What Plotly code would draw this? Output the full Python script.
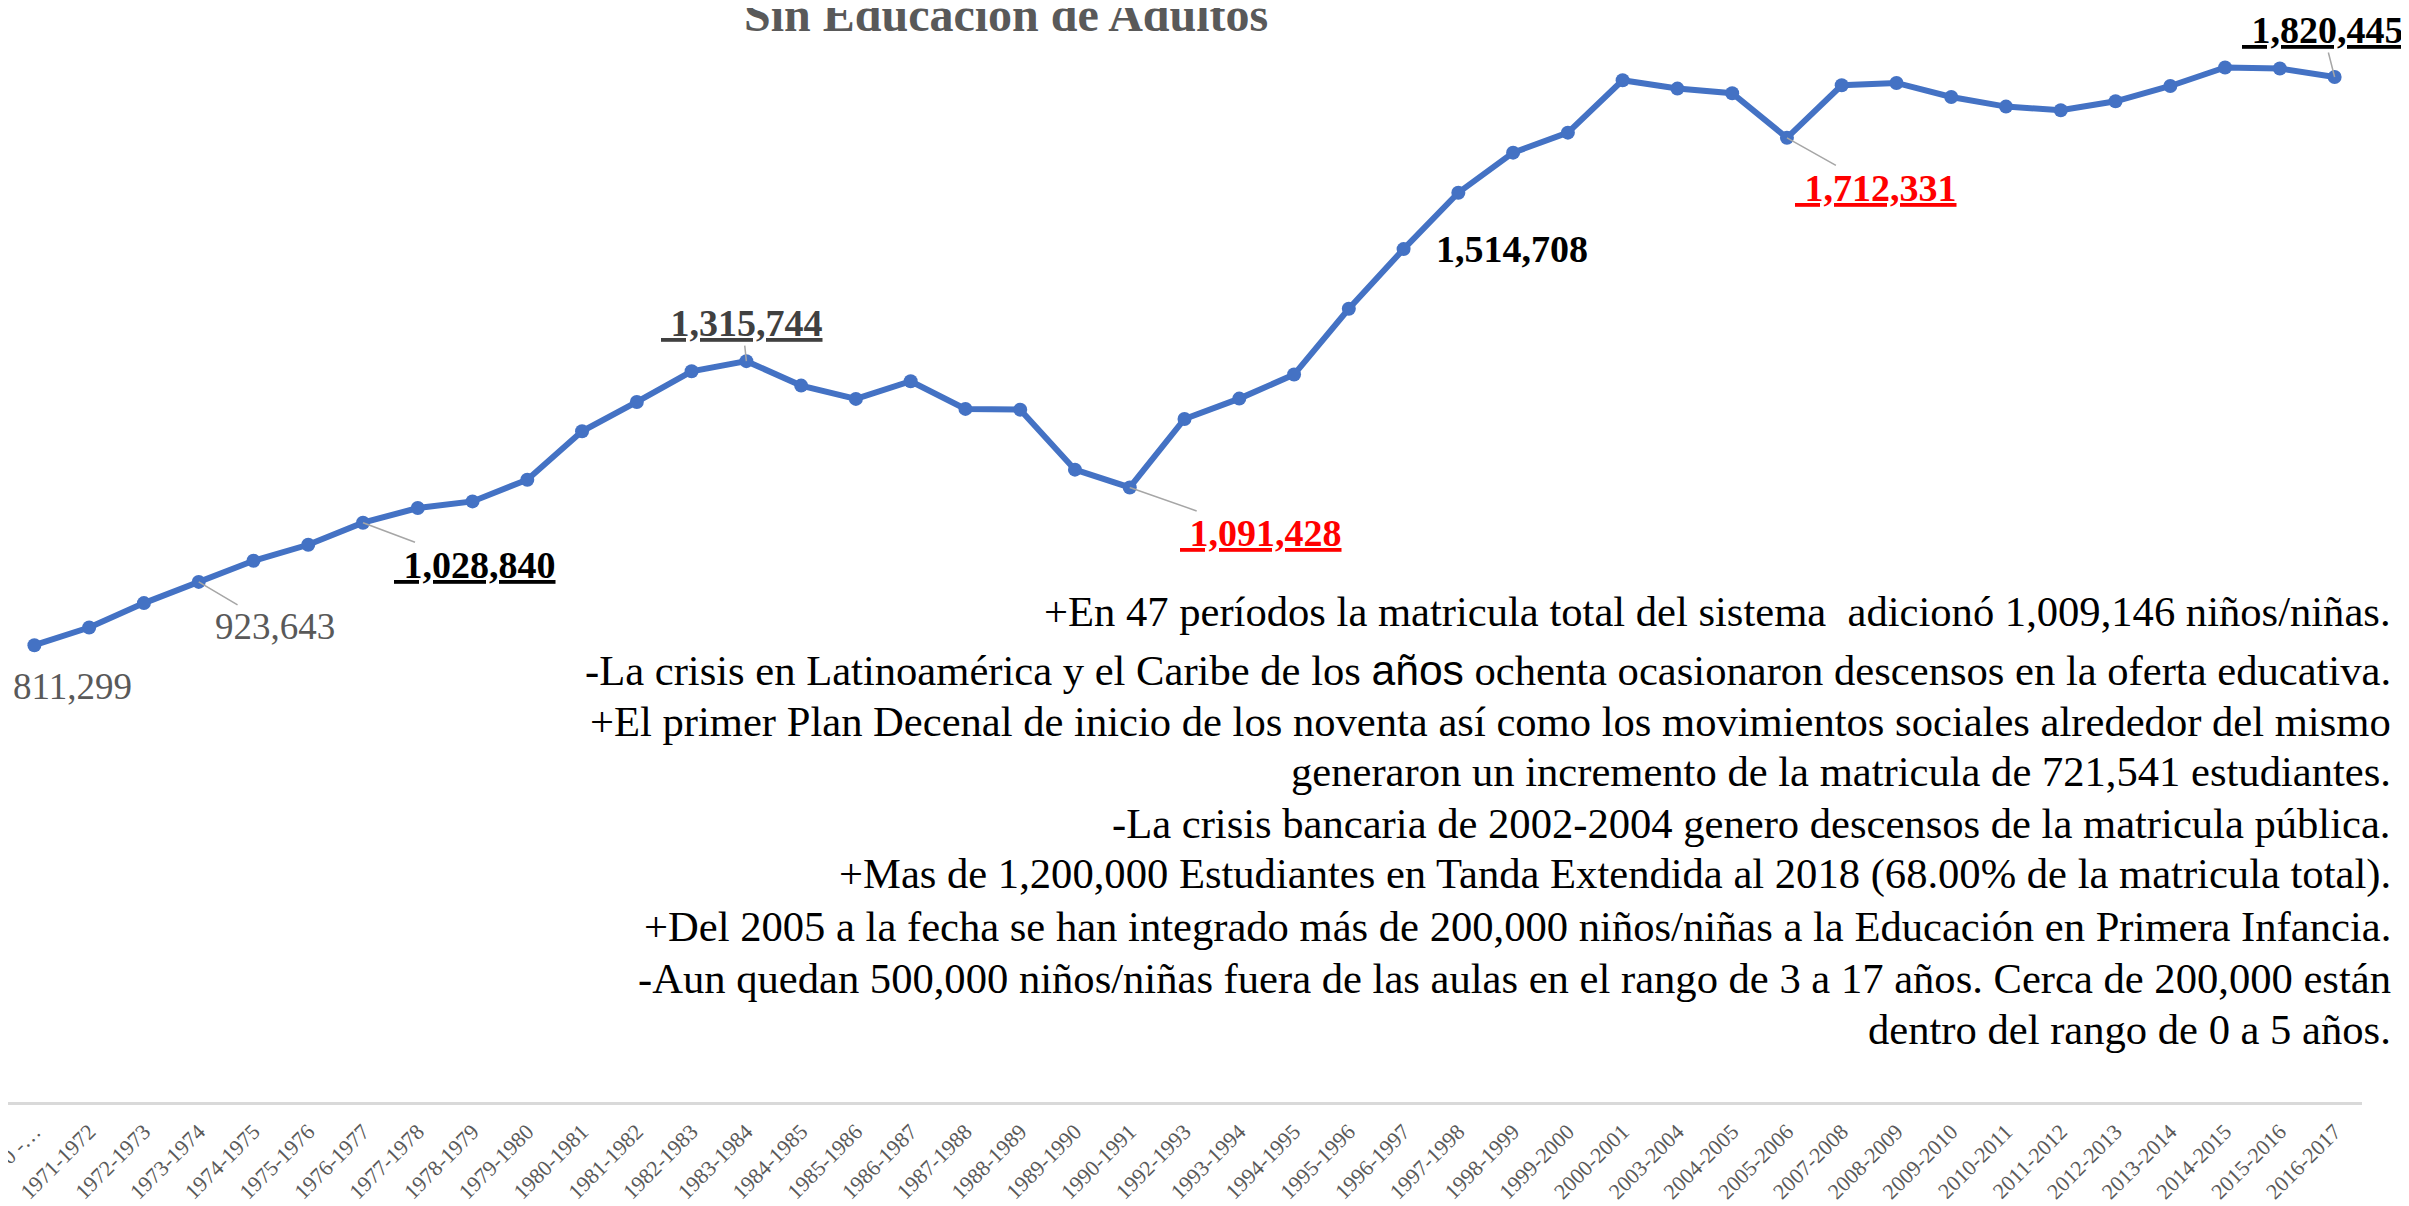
import plotly.graph_objects as go

# page is offset by the default 8px body margin; work in page pixels below
OFF = 8
W, H = 2409, 1206
ML, MT = 0, 0
PW = 2354                 # plot-area width (figure px)
PH = 1094                 # plot-area height (figure px)
MR = W - ML - PW
MB = H - MT - PH

periods = ["1970 -…", "1971-1972", "1972-1973", "1973-1974", "1974-1975", "1975-1976",
           "1976-1977", "1977-1978", "1978-1979", "1979-1980", "1980-1981", "1981-1982",
           "1982-1983", "1983-1984", "1984-1985", "1985-1986", "1986-1987", "1987-1988",
           "1988-1989", "1989-1990", "1990-1991", "1992-1993", "1993-1994", "1994-1995",
           "1995-1996", "1996-1997", "1997-1998", "1998-1999", "1999-2000", "2000-2001",
           "2003-2004", "2004-2005", "2005-2006", "2007-2008", "2008-2009", "2009-2010",
           "2010-2011", "2011-2012", "2012-2013", "2013-2014", "2014-2015", "2015-2016",
           "2016-2017"]

matricula = [811299, 842600, 886000, 923643, 961200, 989600,
             1028840, 1054900, 1066600, 1105200, 1191100, 1243300,
             1297700, 1315744, 1272300, 1248700, 1280000, 1230900,
             1229600, 1123000, 1091428, 1213100, 1249200, 1291900,
             1408700, 1514708, 1614900, 1686000, 1721500, 1814600,
             1799800, 1791500, 1712331, 1805700, 1809800, 1784900,
             1767800, 1761200, 1777200, 1804400, 1837200, 1835400,
             1820445]

y_max = 1942900
x_range = [-0.482, 42.5]

notes = [
    "+En 47 períodos la matricula total del sistema  adicionó 1,009,146 niños/niñas.",
    "-La crisis en Latinoamérica y el Caribe de los <span style='font-family:Liberation Sans'>años</span> ochenta ocasionaron descensos en la oferta educativa.",
    "+El primer Plan Decenal de inicio de los noventa así como los movimientos sociales alrededor del mismo",
    "generaron un incremento de la matricula de 721,541 estudiantes.",
    "-La crisis bancaria de 2002-2004 genero descensos de la matricula pública.",
    "+Mas de 1,200,000 Estudiantes en Tanda Extendida al 2018 (68.00% de la matricula total).",
    "+Del 2005 a la fecha se han integrado más de 200,000 niños/niñas a la Educación en Primera Infancia.",
    "-Aun quedan 500,000 niños/niñas fuera de las aulas en el rango de 3 a 17 años. Cerca de 200,000 están",
    "dentro del rango de 0 a 5 años.",
]
note_y_px = [611, 670, 721, 771, 823, 874, 926, 978, 1029]

SERIF = "Liberation Serif, Times New Roman, serif"

fig = go.Figure()
fig.add_trace(go.Scatter(
    x=periods, y=matricula, mode="lines+markers",
    line=dict(color="#4472C4", width=6),
    marker=dict(color="#4472C4", size=14),
    hoverinfo="skip", cliponaxis=False,
))


def px_x(page_px):
    return (page_px - OFF - ML) / PW


def px_y(page_py):
    return (MT + PH - (page_py - OFF)) / PH


def fmt(v):
    return f"{v:,}"


annotations = []

# data labels: (index, style, color, ax, ay, arrow)
label_specs = [
    (0, "plain", "#595959", 38, 41, False),
    (3, "plain", "#595959", 76, 45, True),
    (6, "bu", "#000000", 112, 42, True),
    (13, "bu", "#404040", -4, -38, True),
    (20, "bu", "#FF0000", 131, 46, True),
    (25, "b", "#000000", 108, 0, False),
    (32, "bu", "#FF0000", 89, 50, True),
    (42, "bu", "#000000", -12, -47, True),
]
for idx, style, color, ax, ay, arrow in label_specs:
    val = fmt(matricula[idx])
    if style == "plain":
        txt = val
        size = 37
    elif style == "b":
        txt = f"<b>{val}</b>"
        size = 38
    else:
        txt = f"<b><u> {val}</u></b>"
        size = 38
    if arrow:
        annotations.append(dict(
            x=periods[idx], y=matricula[idx], xref="x", yref="y",
            text=txt, showarrow=True, arrowhead=0, arrowwidth=1.5,
            arrowcolor="#A6A6A6", ax=ax, ay=ay, standoff=0,
            font=dict(family=SERIF, size=size, color=color),
        ))
    else:
        annotations.append(dict(
            x=periods[idx], y=matricula[idx], xref="x", yref="y",
            text=txt, showarrow=False, xshift=ax, yshift=-ay,
            font=dict(family=SERIF, size=size, color=color),
        ))

for t, py in zip(notes, note_y_px):
    annotations.append(dict(
        x=px_x(2393), y=px_y(py), xref="paper", yref="paper",
        xanchor="right", yanchor="middle", text=t, showarrow=False,
        align="right", font=dict(family=SERIF, size=42.6, color="#000000"),
    ))

annotations.append(dict(
    x=px_x(1006), y=px_y(15), xref="paper", yref="paper",
    xanchor="center", yanchor="middle", showarrow=False,
    text="<b>Sin Educación de Adultos</b>",
    font=dict(family=SERIF, size=48, color="#595959"),
))

fig.update_layout(
    width=W, height=H,
    margin=dict(l=ML, r=MR, t=MT, b=MB, autoexpand=False),
    paper_bgcolor="white", plot_bgcolor="white",
    showlegend=False,
    annotations=annotations,
    xaxis=dict(
        type="category", range=x_range,
        showgrid=False, zeroline=False, automargin=False,
        showline=True, linecolor="#D9D9D9", linewidth=3,
        ticks="", tickangle=-45, ticklabelstandoff=5,
        tickfont=dict(family=SERIF, size=22, color="#595959"),
    ),
    yaxis=dict(
        range=[0, y_max], visible=False, showgrid=False, zeroline=False,
        automargin=False,
    ),
)

fig.write_html("out.html")
